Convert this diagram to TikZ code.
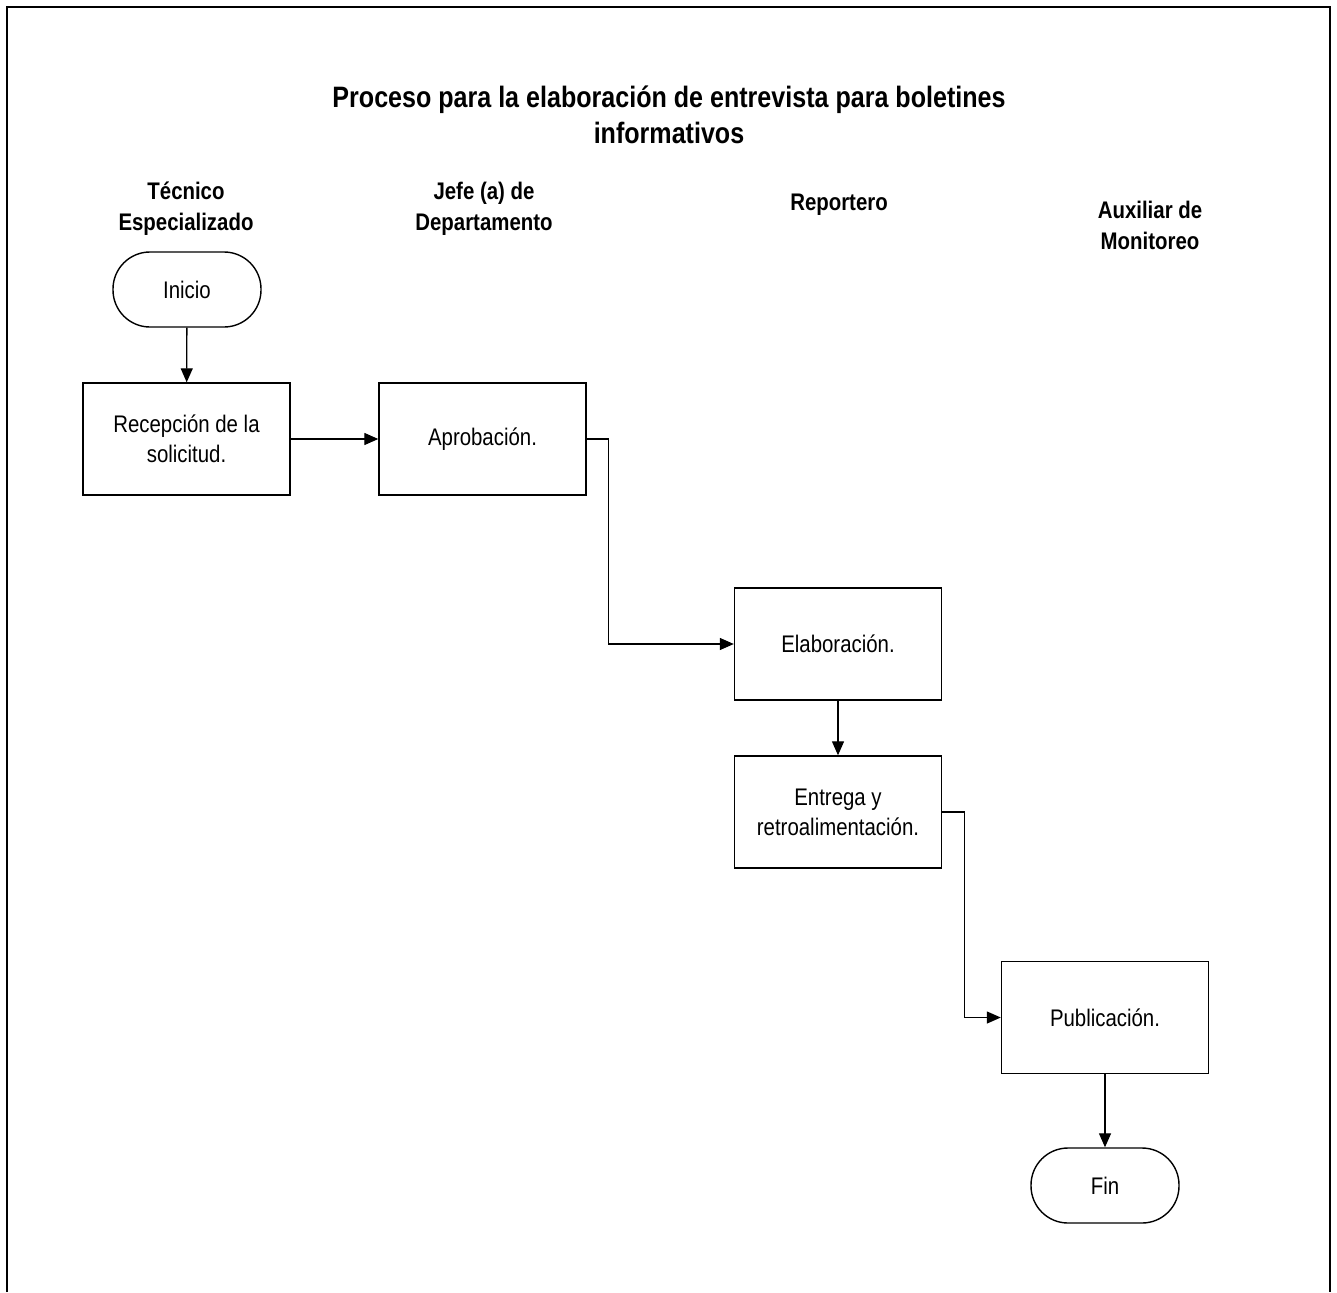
\documentclass[tikz,border=0pt]{standalone}
\usepackage{fontspec}
\setmainfont{Liberation Sans}[FakeStretch=0.85]
\usetikzlibrary{arrows.meta}
\begin{document}
\begin{tikzpicture}[x=1pt,y=-1pt,
  procbox/.style={draw, line width=1.4pt, minimum width=207pt, minimum height=112pt, align=center, inner sep=0pt,
    font=\fontsize{24}{30}\selectfont},
  termbox/.style={draw, line width=1.4pt, minimum width=148pt, minimum height=75pt, rounded corners=37pt, inner sep=0pt,
    font=\fontsize{24}{30}\selectfont},
  lanehead/.style={align=center, inner sep=0pt, font=\bfseries\fontsize{24}{31}\selectfont},
  arr/.style={line width=1.3pt, -{Triangle[length=14pt,width=12pt]}}
]
\useasboundingbox (0,0) rectangle (1337,1292);
\draw[line width=2.6pt] (7,1292) -- (7,7) -- (1330,7) -- (1330,1292);

\node[align=center, inner sep=0pt, font=\bfseries\fontsize{29.5}{36}\selectfont] (title) at (669,115)
  {Proceso para la elaboración de entrevista para boletines\\informativos};

\node[lanehead] (h1) at (186,209) {Técnico\\Especializado};
\node[lanehead] (h2) at (484,208.5) {Jefe (a) de\\Departamento};
\node[lanehead] (h3) at (839,205) {Reportero};
\node[lanehead] (h4) at (1150,225.5) {Auxiliar de\\Monitoreo};

\node[termbox] (inicio) at (187,289.5) {Inicio};
\node[procbox] (recep) at (186.5,439) {Recepción de la\\solicitud.};
\node[procbox] (aprob) at (482.5,439) {Aprobación.};
\node[procbox] (elab) at (838,644) {Elaboración.};
\node[procbox] (entrega) at (838,812) {Entrega y\\retroalimentación.};
\node[procbox] (pub) at (1105,1017.5) {Publicación.};
\node[termbox] (fin) at (1105,1185.5) {Fin};

\draw[arr] (inicio) -- (recep);
\draw[arr] (recep) -- (aprob);
\draw[arr] (aprob.east) -- ++(22,0) |- (elab.west);
\draw[arr] (elab) -- (entrega);
\draw[arr] (entrega.east) -- ++(22,0) |- (pub.west);
\draw[arr] (pub) -- (fin);
\end{tikzpicture}
\end{document}
